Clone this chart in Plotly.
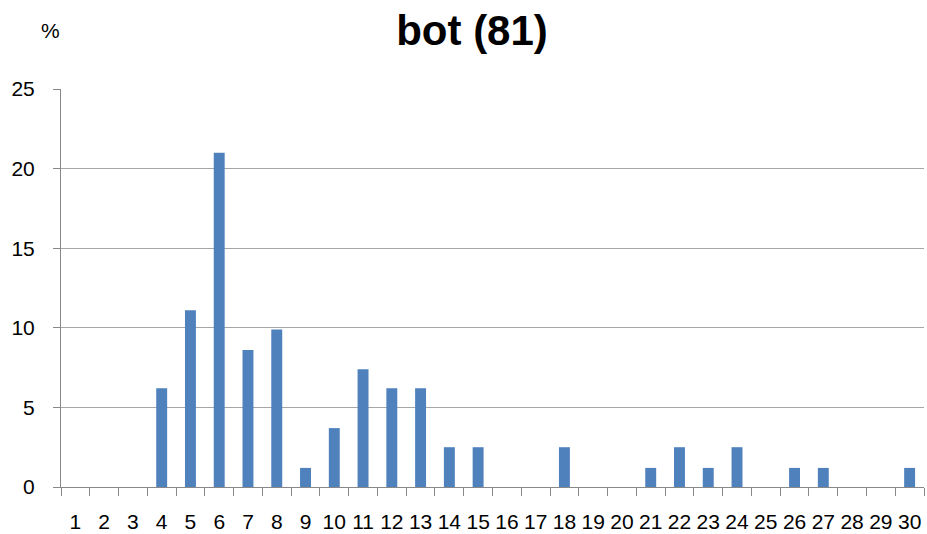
import plotly.graph_objects as go

categories = [str(i) for i in range(1, 31)]
values = [0, 0, 0, 6.2, 11.1, 21.0, 8.6, 9.9, 1.2, 3.7,
          7.4, 6.2, 6.2, 2.5, 2.5, 0, 0, 2.5, 0, 0,
          1.2, 2.5, 1.2, 2.5, 0, 1.2, 1.2, 0, 0, 1.2]
y_ticks = [0, 5, 10, 15, 20, 25]

fig = go.Figure(go.Bar(x=categories, y=values, marker_color="#4F81BD",
                       marker_line_width=0))

W, H = 927, 534
L, R, T, B = 61, 3, 89, 47
pw, ph = W - L - R, H - T - B

font = "Liberation Sans, Arial, sans-serif"
fig.update_layout(
    width=W, height=H,
    margin=dict(l=L, r=R, t=T, b=B, autoexpand=False),
    paper_bgcolor="white", plot_bgcolor="white",
    bargap=0.62,
    showlegend=False,
    font=dict(family=font, color="#000000", size=18),
    title=dict(text="<b>bot (81)</b>", x=472 / W, xanchor="center",
               y=1 - 30 / H, yanchor="middle",
               font=dict(size=42, family=font, color="#000000")),
    annotations=[dict(text="%", x=(50 - L) / pw, y=(H - B - 31) / ph,
                      xref="paper", yref="paper", xanchor="center", yanchor="middle",
                      showarrow=False, font=dict(size=21, family=font))],
)

fig.update_xaxes(type="category", showline=True, linecolor="#888888", linewidth=1,
                 ticks="outside", tickson="boundaries", ticklen=8, tickcolor="#888888",
                 showgrid=False, tickfont=dict(size=21), tickangle=0,
                 automargin=False, ticklabelstandoff=16)
fig.update_yaxes(range=[0, 25], tickvals=y_ticks, showline=True, linecolor="#888888",
                 linewidth=1, ticks="outside", ticklen=7, tickcolor="#888888",
                 showgrid=True, gridcolor="#a6a6a6", gridwidth=1, zeroline=False,
                 tickfont=dict(size=21), ticklabelstandoff=14, automargin=False)

fig.write_html("out.html", config={"displayModeBar": False},
               post_script="document.body.style.margin='0';document.body.style.padding='0';")
